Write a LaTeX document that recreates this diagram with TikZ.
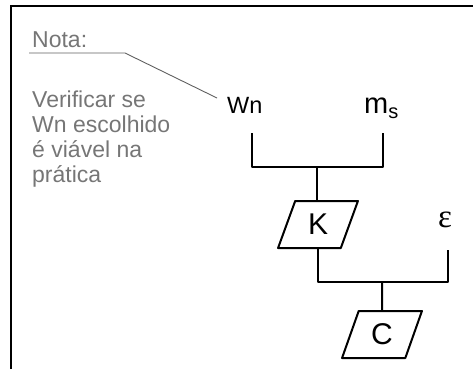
\documentclass[tikz,border=0pt]{standalone}
\usepackage{fontspec}
\setmainfont{Liberation Sans}
\newfontfamily\epsfont{Liberation Serif}
\usetikzlibrary{shapes.geometric}
\definecolor{notegray}{RGB}{118,118,118}
\definecolor{leadgray}{RGB}{95,95,95}
\tikzset{
  frame/.style={line width=2pt},
  wire/.style={line width=2pt, line join=round},
  leader/.style={line width=0.9pt, draw=leadgray},
  notetext/.style={inner sep=0pt, text=notegray, font=\fontsize{23}{25}\selectfont},
  lbl/.style={inner sep=0pt, font=\fontsize{23.5}{25}\selectfont},
  calc/.style={draw, line width=2pt, line join=round, trapezium,
    trapezium left angle=70, trapezium right angle=110,
    trapezium stretches=true, minimum width=80pt, minimum height=47pt,
    inner sep=0pt, font=\fontsize{30}{30}\selectfont},
}
\begin{document}
\begin{tikzpicture}[x=1pt, y=-1pt]
  \useasboundingbox (0,0) rectangle (473,369);
  % open frame: left and top sides only
  \draw[frame] (11,369) -- (11,6) -- (473,6);

  % side note (base anchor sits on the last line)
  \node[notetext, anchor=base west] (nota) at (32,48) {Nota:};
  \node[notetext, anchor=base west, align=left] (notebody) at (32,182)
    {Verificar se\\Wn escolhido\\é viável na\\prática};
  \coordinate (ul0) at (29,53);
  \coordinate (ul1) at (125,53);
  \coordinate (wnlead) at (217,98);
  \draw[leader] (ul0) -- (ul1) -- (wnlead);

  % inputs
  \node[lbl, anchor=base west] (wn) at (227,113) {Wn};
  \node[inner sep=0pt, anchor=base west] (ms) at (364,113)
    {\fontsize{29}{29}\selectfont m\raisebox{-5pt}{\fontsize{20}{20}\selectfont s}};
  \node[inner sep=0pt, anchor=base west, font=\epsfont\fontsize{33}{33}\selectfont] (eps) at (438,227) {ε};

  % blocks
  \node[calc] (K) at (318,224.5) {K};
  \node[calc] (C) at (382,334.5) {C};

  % wiring
  \coordinate (wnfoot) at (252,133);
  \coordinate (msfoot) at (383,133);
  \coordinate (j1) at (317,167);
  \coordinate (j2) at (382,282);
  \coordinate (epsfoot) at (448,250);
  \draw[wire] (wnfoot) |- (j1) -| (msfoot);
  \draw[wire] (j1) -- (j1 |- K.north);
  \draw[wire] (K) |- (j2) -| (epsfoot);
  \draw[wire] (j2) -- (C);
\end{tikzpicture}
\end{document}
